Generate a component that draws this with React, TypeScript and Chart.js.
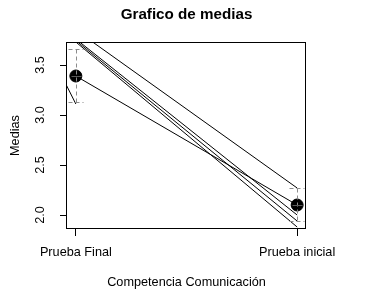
import React, { useEffect, useRef } from "react";
import { Chart, registerables } from "chart.js";

Chart.register(...registerables);

// ---- data ----
const categories = ["Prueba Final", "Prueba inicial"];
const categoryPositions = [1, 2];
const means = [3.39, 2.1];
const ciLower = [3.13, 1.94];
const ciUpper = [3.66, 2.27];
const yTicks = [2.0, 2.5, 3.0, 3.5];
// individual lines: value at "Prueba Final" and at "Prueba inicial"
const lineStart = [3.85, 3.73, 3.745, 3.76];
const lineEnd = [2.27, 1.88, 1.94, 2.0];
// short segment at the left edge
const shortLineX = [0.95, 1.0];
const shortLineY = [3.33, 3.11];

const FONT = "'Liberation Sans', Arial, Helvetica, sans-serif";
const LABEL_SIZE = 12.7;
const TITLE_SIZE = 15.2;

const rPlotPlugin = {
  id: "rPlot",
  afterDatasetsDraw(chart: any) {
    const { ctx, chartArea: a, scales } = chart;
    const x = scales.x;
    const y = scales.y;
    ctx.save();
    ctx.beginPath();
    ctx.rect(a.left, a.top, a.right - a.left, a.bottom - a.top);
    ctx.clip();
    ctx.lineWidth = 1;
    categoryPositions.forEach((c, i) => {
      const px = Math.round(x.getPixelForValue(c)) + 0.5;
      const top = Math.round(y.getPixelForValue(ciUpper[i])) + 0.5;
      const bot = Math.round(y.getPixelForValue(ciLower[i])) + 0.5;
      const my = Math.round(y.getPixelForValue(means[i])) + 0.5;
      ctx.strokeStyle = "#8c8c8c";
      ctx.setLineDash([4, 3]);
      ctx.beginPath();
      ctx.moveTo(px, top);
      ctx.lineTo(px, bot);
      ctx.stroke();
      ctx.beginPath();
      ctx.moveTo(px - 8, top);
      ctx.lineTo(px + 7, top);
      ctx.moveTo(px - 8, bot);
      ctx.lineTo(px + 7, bot);
      ctx.stroke();
      ctx.setLineDash([]);
      ctx.strokeStyle = "#5a5a5a";
      ctx.beginPath();
      ctx.moveTo(px - 5, my);
      ctx.lineTo(px + 5, my);
      ctx.stroke();
    });
    ctx.restore();
  },
  afterDraw(chart: any) {
    const { ctx, chartArea: a } = chart;
    ctx.save();
    ctx.strokeStyle = "#000";
    ctx.lineWidth = 1;
    ctx.setLineDash([]);
    const l = Math.round(a.left) - 0.5;
    const t = Math.round(a.top) + 0.5;
    const r = Math.round(a.right) - 0.5;
    const b = Math.round(a.bottom) - 0.5;
    ctx.strokeRect(l, t, r - l, b - t);
    ctx.restore();
  },
};

export default function App() {
  const ref = useRef<HTMLCanvasElement | null>(null);

  useEffect(() => {
    if (!ref.current) return;
    const lineDatasets = lineStart.map((s, i) => ({
      data: [
        { x: categoryPositions[0], y: s },
        { x: categoryPositions[1], y: lineEnd[i] },
      ],
      borderColor: "#000",
      borderWidth: 1,
      pointRadius: 0,
      fill: false,
    }));
    const chart = new Chart(ref.current, {
      type: "line",
      data: {
        datasets: [
          {
            data: means.map((m, i) => ({ x: categoryPositions[i], y: m })),
            borderColor: "#000",
            borderWidth: 1,
            pointRadius: 6,
            pointHoverRadius: 6,
            pointBackgroundColor: "#000",
            pointBorderColor: "#000",
            fill: false,
          },
          ...lineDatasets,
          {
            data: shortLineX.map((xv, i) => ({ x: xv, y: shortLineY[i] })),
            borderColor: "#000",
            borderWidth: 1,
            pointRadius: 0,
            fill: false,
          },
        ],
      },
      options: {
        responsive: false,
        animation: false,
        events: [],
        layout: { padding: { left: 0, right: 61, top: 0, bottom: 0 } },
        plugins: {
          legend: { display: false },
          tooltip: { enabled: false },
          title: {
            display: true,
            text: "Grafico de medias",
            fullSize: false,
            color: "#000",
            font: { family: FONT, size: TITLE_SIZE, weight: "bold", lineHeight: 1.2 },
            padding: { top: 6, bottom: 42 - 6 - TITLE_SIZE * 1.2 },
          },
        },
        scales: {
          x: {
            type: "linear",
            min: 0.96,
            max: 2.04,
            afterBuildTicks: (s: any) => {
              s.ticks = categoryPositions.map((v) => ({ value: v }));
            },
            afterFit: (s: any) => {
              s.height = 70;
            },
            ticks: {
              autoSkip: false,
              maxRotation: 0,
              minRotation: 0,
              padding: 9,
              color: "#000",
              font: { family: FONT, size: LABEL_SIZE },
              callback: (v: any) => {
                const idx = categoryPositions.indexOf(Number(v));
                return idx >= 0 ? categories[idx] : "";
              },
            },
            grid: {
              drawOnChartArea: false,
              drawTicks: true,
              tickLength: 7,
              color: "#000",
            },
            border: { display: false },
            title: {
              display: true,
              text: "Competencia Comunicación",
              color: "#000",
              font: { family: FONT, size: LABEL_SIZE },
              padding: { top: 0, bottom: 8.5 },
            },
          },
          y: {
            type: "linear",
            min: 1.86,
            max: 3.73,
            afterBuildTicks: (s: any) => {
              s.ticks = yTicks.map((v) => ({ value: v }));
            },
            afterFit: (s: any) => {
              s.width = 67;
            },
            ticks: {
              minRotation: 90,
              maxRotation: 90,
              crossAlign: "center",
              padding: 11,
              color: "#000",
              font: { family: FONT, size: LABEL_SIZE },
              callback: (v: any) => Number(v).toFixed(1),
            },
            grid: {
              drawOnChartArea: false,
              drawTicks: true,
              tickLength: 7,
              color: "#000",
            },
            border: { display: false },
            title: {
              display: true,
              text: "Medias",
              color: "#000",
              font: { family: FONT, size: LABEL_SIZE },
              padding: { top: 8, bottom: 0 },
            },
          },
        },
      } as any,
      plugins: [rPlotPlugin],
    });
    return () => chart.destroy();
  }, []);

  return (
    <div style={{ position: "absolute", left: 0, top: 0, width: 367, height: 299, background: "#fff" }}>
      <canvas ref={ref} width={367} height={299} style={{ display: "block" }} />
    </div>
  );
}
